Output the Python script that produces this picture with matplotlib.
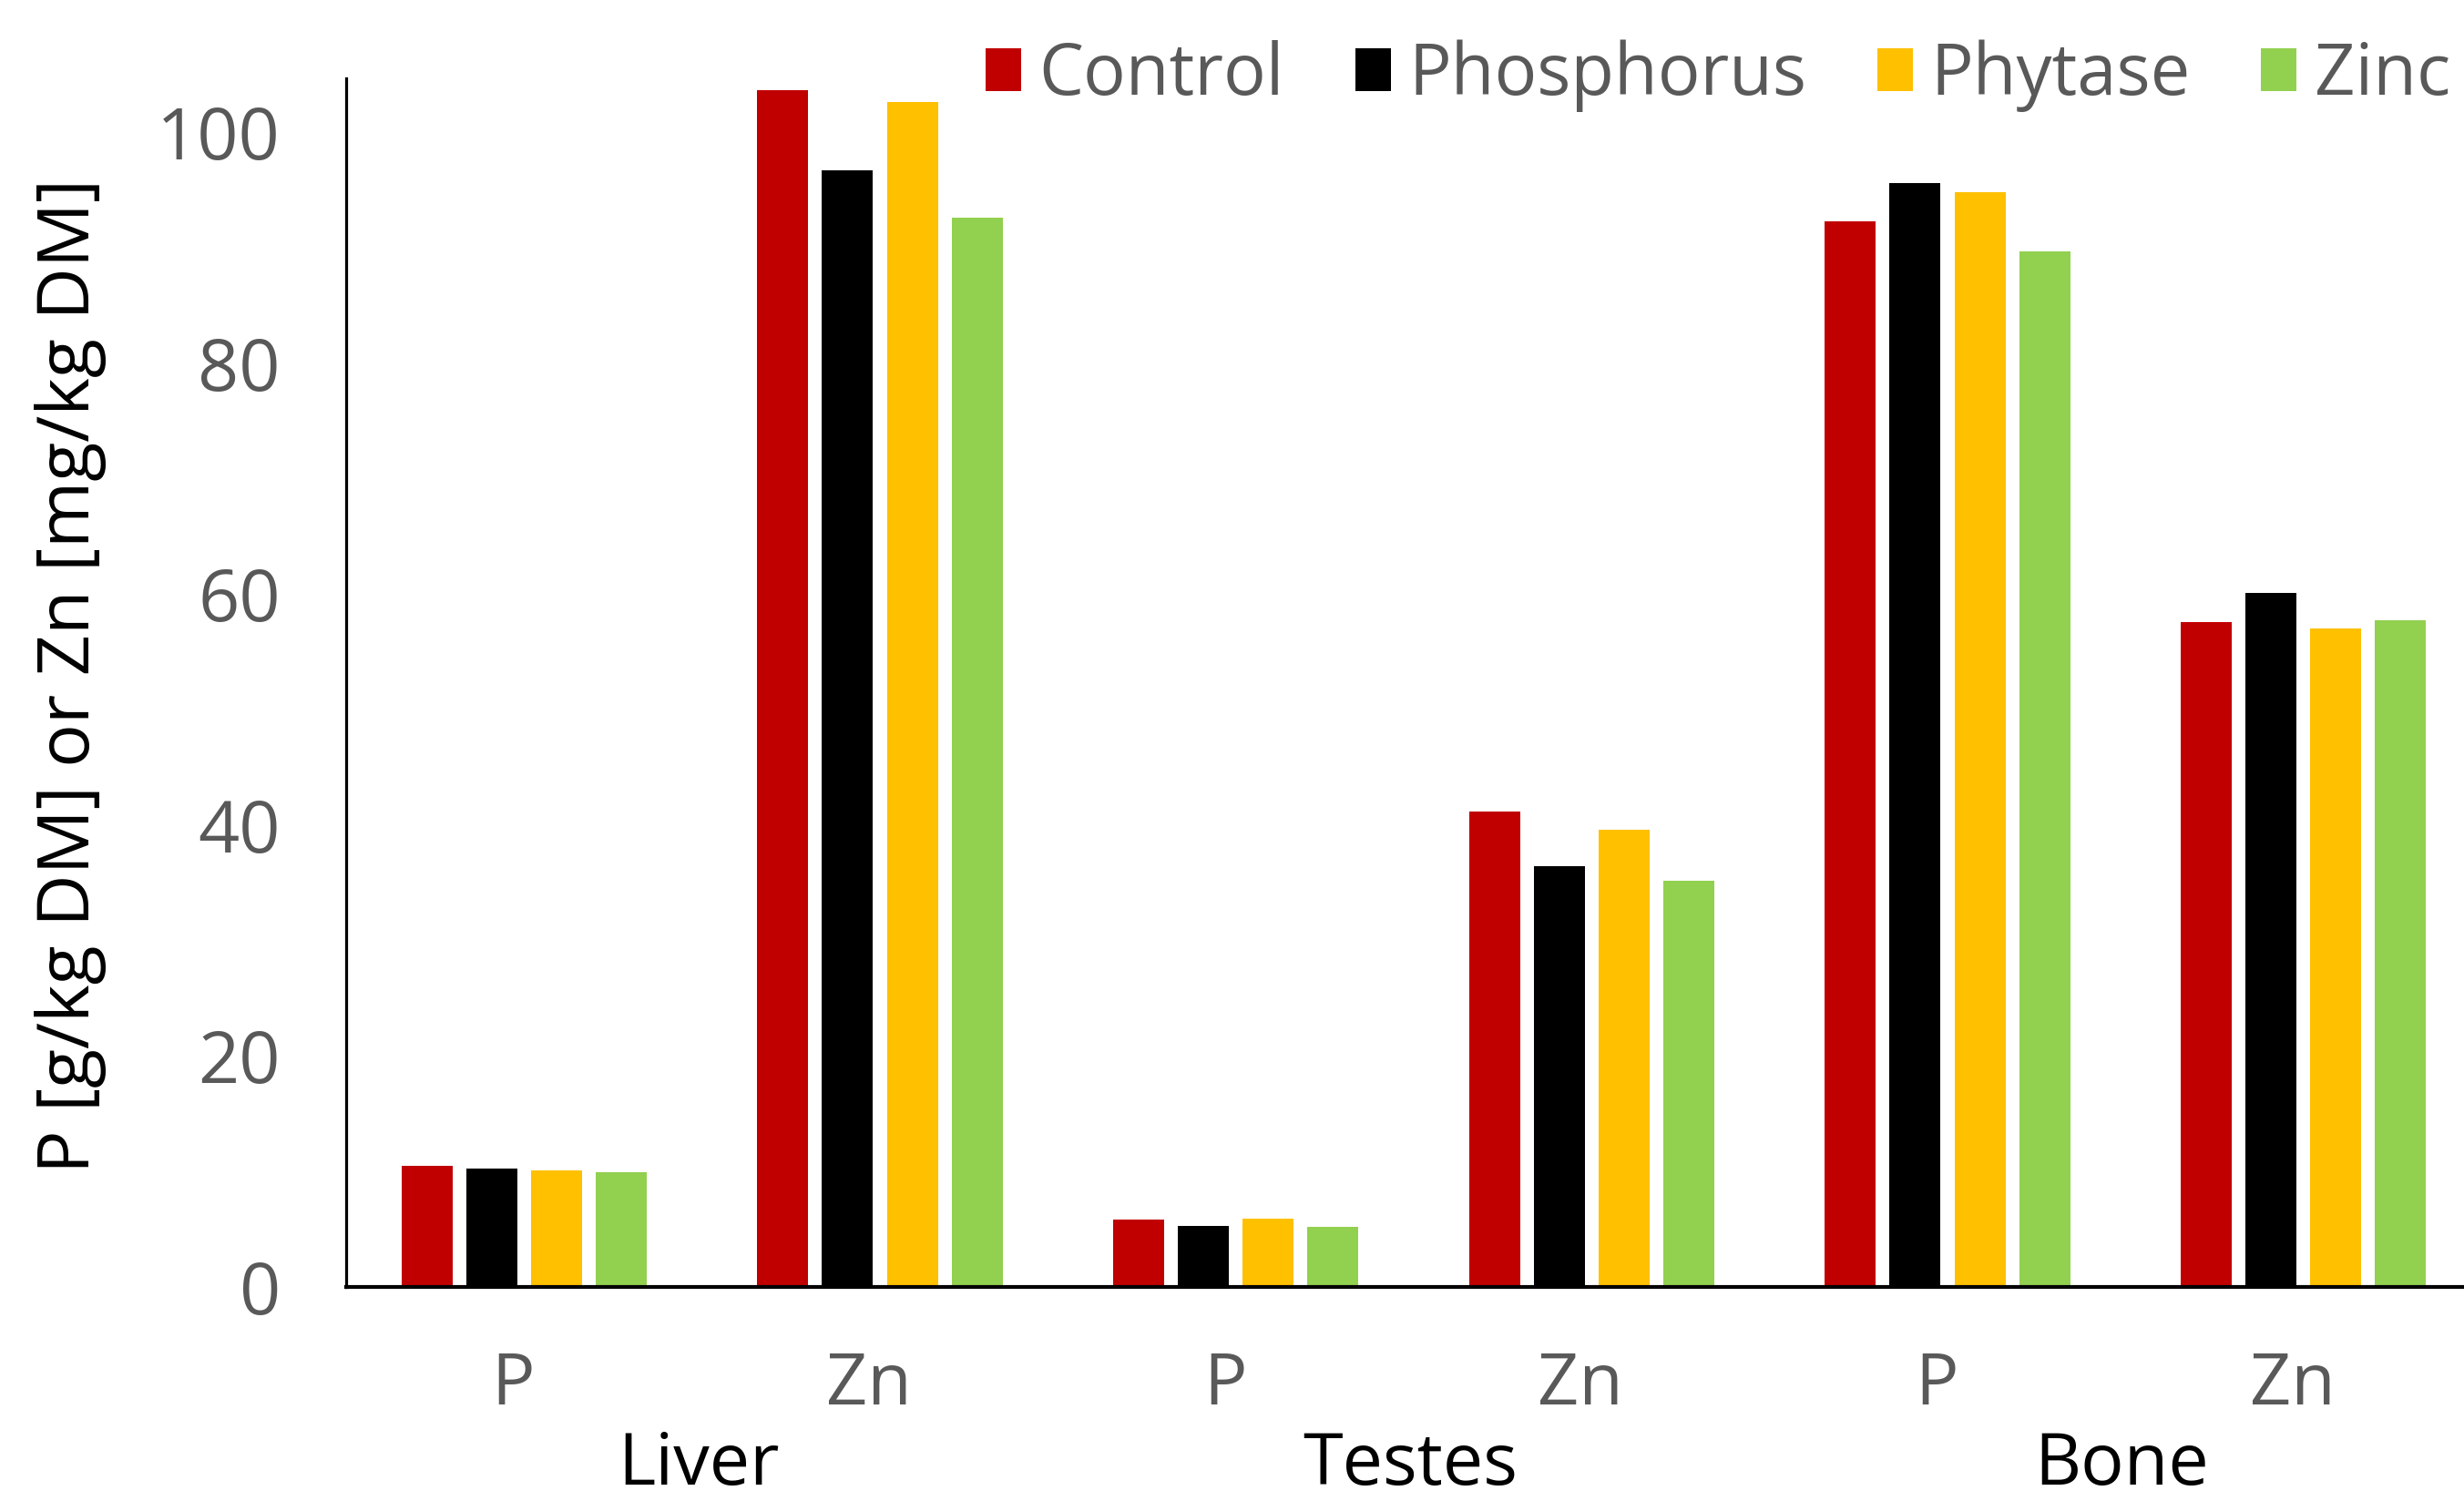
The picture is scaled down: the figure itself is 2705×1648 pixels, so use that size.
import matplotlib
matplotlib.use("Agg")
import matplotlib.pyplot as plt
from matplotlib.patches import Patch
from matplotlib.transforms import blended_transform_factory, ScaledTranslation
import numpy as np

plt.rcParams['font.family'] = ['Open Sans', 'DejaVu Sans']

# Data
elements = ["P", "Zn", "P", "Zn", "P", "Zn"]
tissues = ["Liver", "Testes", "Bone"]
treatments = ["Control", "Phosphorus", "Phytase", "Zinc"]
control = [10.5, 103.6, 5.8, 41.2, 92.3, 57.6]
phosphorus = [10.25, 96.7, 5.3, 36.4, 95.6, 60.1]
phytase = [10.1, 102.6, 5.9, 39.6, 94.8, 57.0]
zinc = [9.9, 92.6, 5.2, 35.2, 89.7, 57.7]
yticks = [0, 20, 40, 60, 80, 100]

series = [control, phosphorus, phytase, zinc]
colors = ["#C00000", "#000000", "#FFC000", "#92D050"]

W, H = 2705, 1648
fig = plt.figure(figsize=(W / 100, H / 100), dpi=100)
left, right, bottom, top = 380, 2724, 1413, 86
ax = fig.add_axes([left / W, 1 - bottom / H, (right - left) / W, (bottom - top) / H])

x = np.arange(len(elements))
step = 0.1818
width = 0.1434
for i, (vals, col) in enumerate(zip(series, colors)):
    ax.bar(x + (i - 1.5) * step, vals, width=width, color=col, label=treatments[i], zorder=2)

ax.set_xlim(-0.5, 5.5)
ax.set_ylim(0, 104.65)
ax.set_yticks(yticks)
ax.set_yticklabels([str(t) for t in yticks])
ax.set_xticks(x)
ax.set_xticklabels(elements)

grey = "#595959"
ax.tick_params(axis="y", length=0, pad=52, labelsize=57, labelcolor=grey)
ax.tick_params(axis="x", length=0, pad=50, labelsize=57, labelcolor=grey)

# nudge element labels slightly left
shift = ScaledTranslation(-12 / 100, 0, fig.dpi_scale_trans)
for lbl in ax.get_xticklabels():
    lbl.set_transform(lbl.get_transform() + shift)

for s in ["top", "right"]:
    ax.spines[s].set_visible(False)
ax.spines["left"].set_linewidth(2.3)
ax.spines["bottom"].set_linewidth(3.0)
ax.spines["left"].set_zorder(3)
ax.spines["bottom"].set_zorder(3)

# Tissue group labels under each pair of elements
trans = blended_transform_factory(ax.transData, ax.transAxes)
for k, name in enumerate(tissues):
    ax.text(2 * k + 0.49, -0.148, name, transform=trans, ha="center", va="center",
            fontsize=57, color="black")

# Y axis title
fig.text(78 / W, 1 - 742 / H, "P [g/kg DM] or Zn [mg/kg DM]", rotation=90,
         ha="center", va="center", fontsize=57, color="black")

# Legend along the top
handles = [Patch(facecolor=c, edgecolor="none") for c in colors]
leg = fig.legend(handles, treatments, loc="center right",
                 bbox_to_anchor=(2690 / W, 1 - 83 / H), ncol=4, frameon=False,
                 fontsize=56, handlelength=0.5, handleheight=0.55,
                 handletextpad=0.25, columnspacing=1.0, borderpad=0, borderaxespad=0)
for t in leg.get_texts():
    t.set_color(grey)

fig.savefig("out.png", dpi=100)
